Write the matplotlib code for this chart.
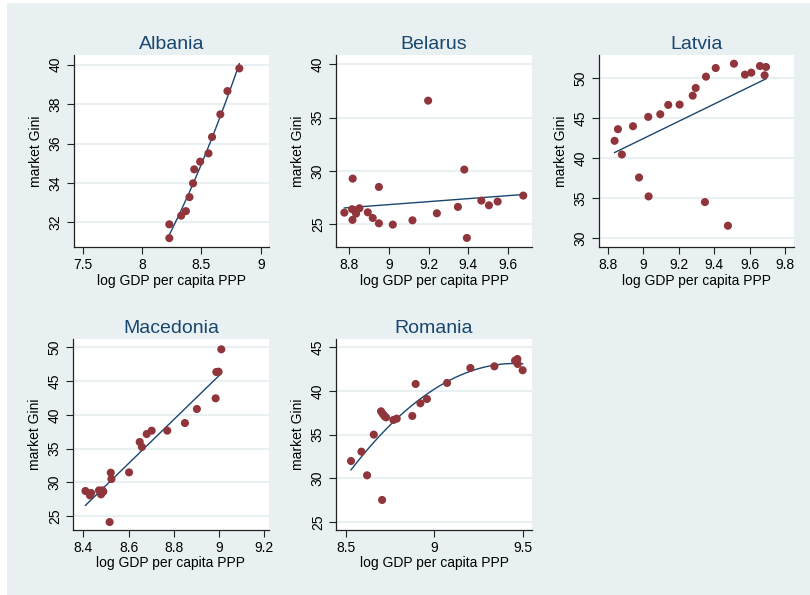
import numpy as np
import matplotlib.pyplot as plt
from matplotlib.patches import Rectangle

plt.rcParams['font.family'] = ['Liberation Sans', 'DejaVu Sans']

# --- data: log GDP per capita PPP vs market Gini ---
albania_x = [8.23, 8.23, 8.33, 8.37, 8.40, 8.43, 8.44, 8.49, 8.56, 8.59, 8.66, 8.72, 8.82]
albania_y = [31.2, 31.9, 32.34, 32.57, 33.28, 33.98, 34.69, 35.08, 35.5, 36.33, 37.48, 38.66, 39.81]

belarus_x = [8.776, 8.818, 8.815, 8.817, 8.835, 8.852, 8.894, 8.919, 8.950, 8.950, 9.020,
             9.119, 9.198, 9.242, 9.348, 9.380, 9.393, 9.466, 9.504, 9.548, 9.677]
belarus_y = [26.09, 29.28, 26.41, 25.41, 26.0, 26.5, 26.12, 25.59, 28.5, 25.09, 24.97,
             25.37, 36.59, 26.03, 26.63, 30.13, 23.72, 27.22, 26.78, 27.13, 27.69]

latvia_x = [8.838, 8.857, 8.879, 8.942, 8.976, 9.028, 9.030, 9.096, 9.141, 9.205, 9.279,
            9.296, 9.348, 9.354, 9.409, 9.478, 9.512, 9.574, 9.610, 9.659, 9.685, 9.693]
latvia_y = [42.17, 43.63, 40.46, 44.0, 37.58, 45.17, 35.21, 45.5, 46.67, 46.71, 47.83,
            48.79, 34.5, 50.21, 51.29, 31.54, 51.83, 50.46, 50.71, 51.54, 50.38, 51.42]

macedonia_x = [8.409, 8.429, 8.434, 8.469, 8.478, 8.484, 8.488, 8.516, 8.521, 8.524, 8.602,
               8.649, 8.659, 8.680, 8.702, 8.771, 8.849, 8.902, 8.985, 8.988, 8.998, 9.010]
macedonia_y = [28.71, 28.06, 28.41, 28.80, 28.21, 28.80, 28.61, 24.11, 31.42, 30.48, 31.47,
               35.97, 35.23, 37.15, 37.65, 37.65, 38.78, 40.86, 42.44, 46.34, 46.39, 49.70]

romania_x = [8.528, 8.587, 8.619, 8.657, 8.698, 8.704, 8.708, 8.717, 8.726, 8.768, 8.787,
             8.875, 8.894, 8.921, 8.958, 9.072, 9.204, 9.340, 9.457, 9.470, 9.472, 9.5]
romania_y = [31.98, 33.05, 30.34, 35.0, 37.67, 27.52, 37.37, 37.14, 36.98, 36.68, 36.83,
             37.14, 40.80, 38.59, 39.08, 40.92, 42.63, 42.82, 43.47, 43.66, 43.09, 42.37]

countries = ['Albania', 'Belarus', 'Latvia', 'Macedonia', 'Romania']
xs = [albania_x, belarus_x, latvia_x, macedonia_x, romania_x]
ys = [albania_y, belarus_y, latvia_y, macedonia_y, romania_y]
fit_degree = [2, 1, 1, 1, 2]
xticks = [[7.5, 8, 8.5, 9], [8.8, 9, 9.2, 9.4, 9.6], [8.8, 9, 9.2, 9.4, 9.6, 9.8],
          [8.4, 8.6, 8.8, 9, 9.2], [8.5, 9, 9.5]]
yticks = [[32, 34, 36, 38, 40], [25, 30, 35, 40], [30, 35, 40, 45, 50],
          [25, 30, 35, 40, 45, 50], [25, 30, 35, 40, 45]]

# --- layout (pixel boxes of each plot region) ---
W, H = 810, 595
boxes = [(74, 55, 269, 247), (336, 55, 532, 247), (599, 55, 794, 247),
         (73, 339, 269, 530), (336, 339, 532, 530)]
xlims = [(7.427, 9.07), (8.734, 9.721), (8.75, 9.851), (8.354, 9.221), (8.443, 9.553)]
ylims = [(30.75, 40.49), (22.87, 40.87), (28.875, 52.92), (22.93, 51.23), (24.08, 45.95)]

bg = '#e8f0f2'
navy = '#1a476f'
maroon = '#90353b'

fig = plt.figure(figsize=(W / 100, H / 100), dpi=100)
fig.patch.set_facecolor('white')
fig.add_artist(Rectangle((7 / W, 0), 1 - 7 / W, 1 - 3 / H, transform=fig.transFigure,
                         facecolor=bg, edgecolor='none', zorder=-10))

for i, name in enumerate(countries):
    x0, y0, x1, y1 = boxes[i]
    ax = fig.add_axes([x0 / W, 1 - y1 / H, (x1 - x0) / W, (y1 - y0) / H])
    ax.set_facecolor('white')
    x = np.array(xs[i])
    y = np.array(ys[i])

    # fitted line over the range of the data
    c = np.polyfit(x, y, fit_degree[i])
    fx = np.linspace(x.min(), x.max(), 100)
    ax.plot(fx, np.polyval(c, fx), color=navy, lw=1.0, zorder=3)
    ax.scatter(x, y, s=34, color=maroon, edgecolor='none', zorder=4)

    ax.set_xlim(*xlims[i])
    ax.set_ylim(*ylims[i])
    ax.set_xticks(xticks[i])
    ax.set_yticks(yticks[i])
    ax.set_xticklabels([f'{t:g}' for t in xticks[i]])
    ax.set_yticklabels([f'{t:g}' for t in yticks[i]], rotation=90, va='center')
    ax.grid(axis='y', color=bg, lw=1.5, zorder=1)
    ax.set_axisbelow(True)
    for s in ['top', 'right']:
        ax.spines[s].set_visible(False)
    for s in ['left', 'bottom']:
        ax.spines[s].set_color('#222222')
        ax.spines[s].set_linewidth(0.9)
    ax.tick_params(direction='out', length=5, width=0.8, color='#222222',
                   labelsize=10, pad=3)
    ax.set_xlabel('log GDP per capita PPP', fontsize=10, labelpad=1)
    ax.set_ylabel('market Gini', fontsize=10, labelpad=4)
    ax.set_title(name, fontsize=14, color=navy, pad=4)

fig.savefig('out.png', dpi=100)
